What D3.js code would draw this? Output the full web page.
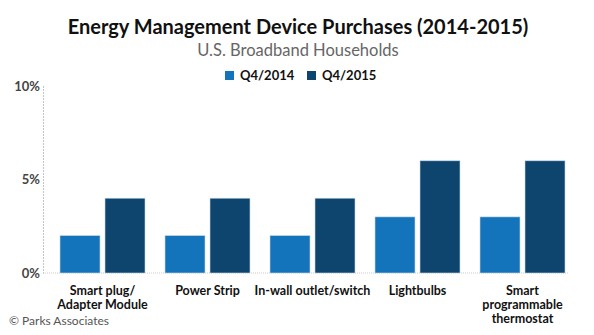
<!DOCTYPE html>
<html>
<head>
<meta charset="utf-8">
<script src="https://cdn.jsdelivr.net/npm/d3@7"></script>
<style>
  body { margin: 0; background: #fff; }
  text { font-family: "Lato", sans-serif; }
</style>
</head>
<body>
<svg id="chart" width="594" height="335"></svg>
<script>
// device categories and the two survey periods
const categories = [
  ['Smart plug/', 'Adapter Module'],
  ['Power Strip'],
  ['In-wall outlet/switch'],
  ['Lightbulbs'],
  ['Smart', 'programmable', 'thermostat']
];
const seriesNames = ['Q4/2014', 'Q4/2015'];
const q42014 = [2, 2, 2, 3, 3];
const q42015 = [4, 4, 4, 6, 6];
const yTicks = [0, 5, 10];

const colors = ['#1474bb', '#0e456e'];

const svg = d3.select('#chart');
const margin = { top: 86, bottom: 62, left: 43 };
const height = 335;

const keys = categories.map(c => c.join(' '));
const rows = keys.map((k, i) => ({ key: k, values: [q42014[i], q42015[i]] }));

const x0 = d3.scaleBand()
  .domain(keys)
  .range([50, 575])
  .paddingInner(20 / 105)
  .paddingOuter(10 / 105);

const x1 = d3.scaleBand()
  .domain([0, 1])
  .range([0, x0.bandwidth()])
  .paddingInner(5 / 45);

const y = d3.scaleLinear()
  .domain([0, 10])
  .range([height - margin.bottom, margin.top]);

// title block
svg.append('text')
  .attr('x', 298).attr('y', 34)
  .attr('text-anchor', 'middle')
  .style('font-size', '20px').style('font-weight', 'bold')
  .attr('fill', '#111')
  .text('Energy Management Device Purchases (2014-2015)');

svg.append('text')
  .attr('x', 298).attr('y', 56)
  .attr('text-anchor', 'middle')
  .style('font-size', '16.5px')
  .attr('fill', '#666')
  .text('U.S. Broadband Households');

// legend
const legend = svg.append('g');
const legendX = [225, 307];
seriesNames.forEach((name, i) => {
  legend.append('rect')
    .attr('x', legendX[i]).attr('y', 71)
    .attr('width', 9).attr('height', 9)
    .attr('fill', colors[i]);
  legend.append('text')
    .attr('x', legendX[i] + 15).attr('y', 80)
    .style('font-size', '13px').style('font-weight', 'bold')
    .attr('fill', '#111')
    .text(name);
});

// y axis: dotted spine with percent labels
const yAxis = svg.append('g')
  .attr('transform', `translate(${margin.left},0)`)
  .call(d3.axisLeft(y).tickValues(yTicks).tickSize(0).tickPadding(3).tickFormat(d => d + '%'));
yAxis.select('.domain')
  .attr('stroke', '#888')
  .attr('stroke-dasharray', '1,2');
yAxis.selectAll('text')
  .style('font-size', '13px')
  .style('font-weight', 'bold')
  .style('font-family', '"Lato", sans-serif')
  .attr('fill', '#444');

// baseline
svg.append('line')
  .attr('x1', margin.left).attr('x2', 568)
  .attr('y1', y(0)).attr('y2', y(0))
  .attr('stroke', '#ccc')
  .attr('stroke-dasharray', '1,1');

// bars
const groups = svg.append('g').selectAll('g')
  .data(rows)
  .join('g')
  .attr('transform', d => `translate(${x0(d.key)},0)`);

groups.selectAll('rect')
  .data(d => d.values)
  .join('rect')
  .attr('x', (d, i) => x1(i))
  .attr('y', d => y(d))
  .attr('width', x1.bandwidth())
  .attr('height', d => y(0) - y(d))
  .attr('fill', (d, i) => colors[i])
  .attr('stroke', '#c5d6e6')
  .attr('stroke-width', 0.6);

// category labels under each group, one text per line
const lines = categories.flatMap((c, i) =>
  c.map((line, j) => ({ line, j, cx: x0(keys[i]) + x0.bandwidth() / 2 })));

svg.append('g').selectAll('text')
  .data(lines)
  .join('text')
  .attr('x', d => d.cx)
  .attr('y', d => 295 + d.j * 14)
  .attr('text-anchor', 'middle')
  .style('font-size', '12.5px').style('font-weight', 'bold')
  .attr('fill', '#111')
  .text(d => d.line);

// source note
svg.append('text')
  .attr('x', 9).attr('y', 325)
  .style('font-size', '12px')
  .attr('fill', '#555')
  .text('© Parks Associates');
</script>
</body>
</html>
